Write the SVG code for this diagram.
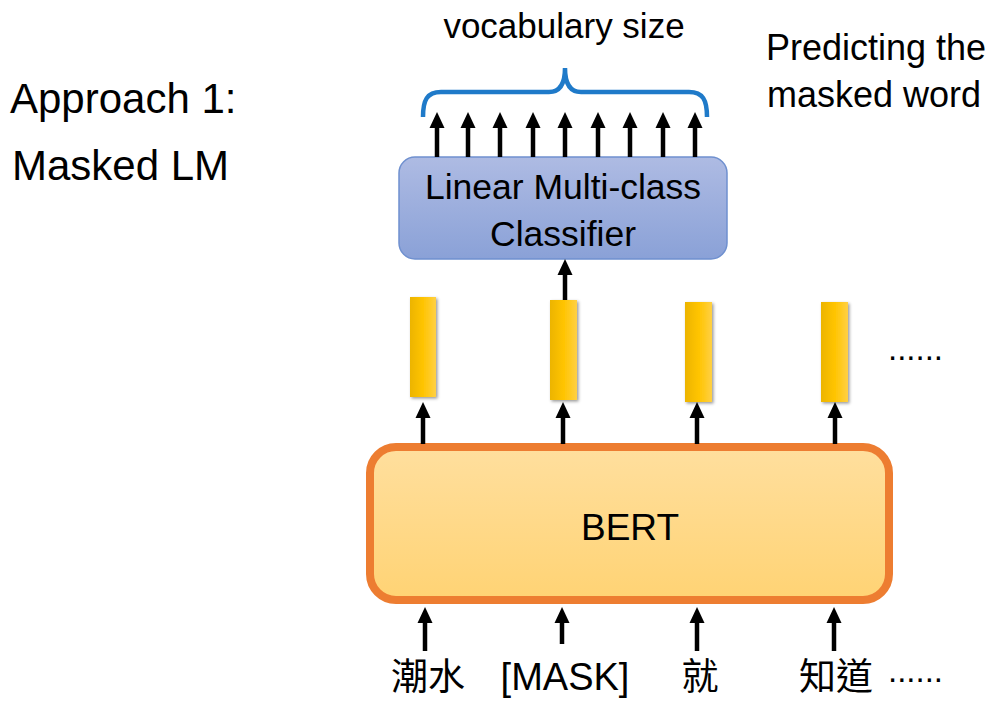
<svg xmlns="http://www.w3.org/2000/svg" width="999" height="704" viewBox="0 0 999 704">
  <style>
    .t { font-family: "Liberation Sans", Arial, sans-serif; fill: #000; }
    .cjk { font-family: "Liberation Sans", "Noto Sans CJK TC", "Noto Sans CJK SC", sans-serif; fill: #000; }
    .arr { stroke: #000; stroke-width: 4.5; fill: none; marker-end: url(#ah); }
    .bar { fill: url(#gBar); filter: url(#sh); }
  </style>
  <defs>
    <marker id="ah" viewBox="0 0 16 16" refX="5" refY="8" markerWidth="16" markerHeight="16" markerUnits="userSpaceOnUse" orient="auto">
      <path d="M0,0.5 L16,8 L0,15.5 z" fill="#000"/>
    </marker>
    <linearGradient id="gBar" x1="0" y1="0" x2="1" y2="0">
      <stop offset="0" stop-color="#ecb400"/>
      <stop offset="0.5" stop-color="#ffc400"/>
      <stop offset="1" stop-color="#ffd044"/>
    </linearGradient>
    <linearGradient id="gCls" x1="0" y1="0" x2="0" y2="1">
      <stop offset="0" stop-color="#aebbe3"/>
      <stop offset="1" stop-color="#8aa1d7"/>
    </linearGradient>
    <linearGradient id="gBert" x1="0" y1="0" x2="0" y2="1">
      <stop offset="0" stop-color="#ffdf9e"/>
      <stop offset="1" stop-color="#ffd374"/>
    </linearGradient>
    <filter id="sh" x="-30%" y="-10%" width="160%" height="120%">
      <feDropShadow dx="1.5" dy="1.5" stdDeviation="1.5" flood-color="#000" flood-opacity="0.4"/>
    </filter>
  </defs>

  <g id="title">
    <text class="t" x="10" y="113" font-size="42">Approach 1:</text>
    <text class="t" x="12" y="180" font-size="42">Masked LM</text>
  </g>

  <g id="note">
    <text class="t" x="766" y="60" font-size="36">Predicting the</text>
    <text class="t" x="767" y="107" font-size="36">masked word</text>
  </g>

  <g id="vocab">
    <text class="t" x="564" y="38" font-size="35" text-anchor="middle">vocabulary size</text>
    <path d="M423,117 C423,100 427,92 441,92 L549,92 C560,92 565,84 565,68 C565,84 570,92 581,92 L689,92 C703,92 707,100 707,117" stroke="#1f7ac9" stroke-width="4.5" fill="none"/>
  </g>

  <g id="classifier">
    <rect x="399" y="157" width="328" height="102" rx="16" fill="url(#gCls)" stroke="#6f90cf" stroke-width="1.5"/>
    <text class="t" x="563" y="199" font-size="35.5" text-anchor="middle">Linear Multi-class</text>
    <text class="t" x="563" y="246" font-size="35.5" text-anchor="middle">Classifier</text>
  </g>

  <g id="vectors">
    <rect class="bar" x="410" y="297" width="26" height="100"/>
    <rect class="bar" x="550" y="300" width="27" height="100"/>
    <rect class="bar" x="685" y="302" width="27" height="100"/>
    <rect class="bar" x="821" y="302" width="27" height="100"/>
    <text class="t" x="888" y="360" font-size="33">......</text>
  </g>

  <g id="bert">
    <rect x="370" y="447" width="519" height="153" rx="26" fill="url(#gBert)" stroke="#ed7d31" stroke-width="8"/>
    <text class="t" x="630" y="540" font-size="37" text-anchor="middle">BERT</text>
  </g>

  <g id="tokens">
    <text class="cjk" x="428" y="690" font-size="37" text-anchor="middle">潮水</text>
    <text class="t" x="565" y="690" font-size="38" text-anchor="middle">[MASK]</text>
    <text class="cjk" x="700" y="690" font-size="37" text-anchor="middle">就</text>
    <text class="cjk" x="799" y="690" font-size="37">知道</text>
    <text class="t" x="888" y="682" font-size="33">......</text>
  </g>

  <g id="connectors">
    <line class="arr" x1="437" y1="157" x2="437" y2="123"/>
    <line class="arr" x1="468" y1="157" x2="468" y2="123"/>
    <line class="arr" x1="500" y1="157" x2="500" y2="123"/>
    <line class="arr" x1="533" y1="157" x2="533" y2="123"/>
    <line class="arr" x1="565" y1="157" x2="565" y2="123"/>
    <line class="arr" x1="598" y1="157" x2="598" y2="123"/>
    <line class="arr" x1="630" y1="157" x2="630" y2="123"/>
    <line class="arr" x1="663" y1="157" x2="663" y2="123"/>
    <line class="arr" x1="695" y1="157" x2="695" y2="123"/>

    <line class="arr" x1="565" y1="300" x2="565" y2="270"/>

    <line class="arr" x1="423" y1="444" x2="423" y2="413"/>
    <line class="arr" x1="563" y1="444" x2="563" y2="413"/>
    <line class="arr" x1="697" y1="444" x2="697" y2="413"/>
    <line class="arr" x1="835" y1="444" x2="835" y2="413"/>

    <line class="arr" x1="425" y1="651" x2="425" y2="618"/>
    <line class="arr" x1="562" y1="644" x2="562" y2="618"/>
    <line class="arr" x1="697" y1="651" x2="697" y2="618"/>
    <line class="arr" x1="834" y1="651" x2="834" y2="618"/>
  </g>
</svg>
